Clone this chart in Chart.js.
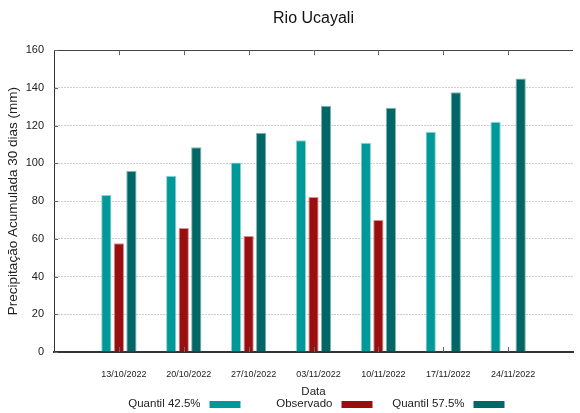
<!DOCTYPE html>
<html>
<head>
<meta charset="utf-8">
<script src="https://cdn.jsdelivr.net/npm/chart.js@4.4.0/dist/chart.umd.min.js"></script>
<style>
  html, body { margin: 0; padding: 0; background: #fff; overflow: hidden; }
  #wrap { width: 590px; height: 413px; }
</style>
</head>
<body>
<div id="wrap"><canvas id="rainChart" width="590" height="413"></canvas></div>
<script>
const dates = ["13/10/2022", "20/10/2022", "27/10/2022", "03/11/2022", "10/11/2022", "17/11/2022", "24/11/2022"];
const q425 = [83.3, 93.4, 100.5, 112.2, 111.0, 116.8, 122.1];
const observed = [57.6, 65.8, 61.5, 82.2, 70.0, null, null];
const q575 = [96.0, 108.5, 116.3, 130.6, 129.5, 137.7, 145.0];
const yTicks = [0, 20, 40, 60, 80, 100, 120, 140, 160];

const sans = "'Liberation Sans', Arial, sans-serif";

// gnuplot-like frame: inward ticks, solid top border, text-then-swatch key
const frameAndKey = {
  id: "frameAndKey",
  afterDraw(chart) {
    const { ctx, chartArea: a, scales } = chart;
    ctx.save();
    ctx.strokeStyle = "#444";
    ctx.lineWidth = 1;
    ctx.beginPath();
    ctx.moveTo(a.left, Math.round(a.top) + 0.5);
    ctx.lineTo(a.right, Math.round(a.top) + 0.5);
    ctx.stroke();
    ctx.strokeStyle = "#666";
    dates.forEach((d, i) => {
      const x = Math.round(scales.x.getPixelForValue(i + 1)) + 0.5;
      ctx.beginPath();
      ctx.moveTo(x, a.top);
      ctx.lineTo(x, a.top + 5);
      ctx.moveTo(x, a.bottom);
      ctx.lineTo(x, a.bottom - 5);
      ctx.stroke();
    });
    yTicks.forEach((v) => {
      const y = Math.round(scales.y.getPixelForValue(v)) + 0.5;
      ctx.beginPath();
      ctx.moveTo(a.left, y);
      ctx.lineTo(a.left + 4, y);
      ctx.stroke();
    });

    // key
    ctx.font = "11.5px " + sans;
    ctx.textAlign = "right";
    ctx.textBaseline = "middle";
    const cx = (a.left + a.right) / 2;
    const ky = 404;
    chart.data.datasets.forEach((ds, i) => {
      const tx = cx + 19 + (i - 1) * 132;
      ctx.fillStyle = "#222";
      ctx.fillText(ds.label, tx, ky);
      ctx.fillStyle = ds.backgroundColor;
      ctx.fillRect(tx + 9, ky - 3, 31, 7);
    });
    ctx.restore();
  },
};

const ctx = document.getElementById("rainChart").getContext("2d");
const rainChart = new Chart(ctx, {
  type: "bar",
  data: {
    labels: dates.map((d, i) => i + 1),
    datasets: [
      {
        label: "Quantil 42.5%",
        data: q425,
        backgroundColor: "#009999",
        borderColor: "rgba(120, 200, 200, 0.8)",
        borderWidth: 1,
      },
      {
        label: "Observado",
        data: observed,
        backgroundColor: "#990e0e",
        borderColor: "rgba(200, 120, 120, 0.8)",
        borderWidth: 1,
      },
      {
        label: "Quantil 57.5%",
        data: q575,
        backgroundColor: "#006666",
        borderColor: "rgba(110, 160, 160, 0.8)",
        borderWidth: 1,
      },
    ],
  },
  options: {
    responsive: false,
    animation: false,
    categoryPercentage: 0.58,
    barPercentage: 0.82,
    layout: {
      padding: { left: 0, right: 4, top: 0, bottom: 14 },
    },
    plugins: {
      legend: { display: false },
      tooltip: { enabled: false },
      title: {
        display: true,
        text: "Rio Ucayali",
        fullSize: false,
        color: "#111",
        font: { family: sans, size: 16, weight: "normal" },
        padding: { top: 9, bottom: 22 },
      },
    },
    scales: {
      x: {
        type: "linear",
        min: 0,
        max: 8,
        offset: false,
        afterFit: (scale) => { scale.height = 47; },
        grid: { display: false, drawTicks: false, tickLength: 0 },
        border: { color: "#333", width: 2 },
        ticks: {
          stepSize: 1,
          autoSkip: false,
          maxRotation: 0,
          padding: 17,
          labelOffset: 5,
          color: "#222",
          font: { family: sans, size: 9 },
          callback: (v) => dates[v - 1] || "",
        },
        title: {
          display: true,
          text: "Data",
          color: "#222",
          font: { family: sans, size: 11.5 },
          padding: { top: 0, bottom: 0 },
        },
      },
      y: {
        min: 0,
        max: 160,
        afterFit: (scale) => { scale.width = 54; },
        grid: {
          color: (c) => (c.tick.value === 0 || c.tick.value === 160 ? "rgba(0,0,0,0)" : "#cdcdcd"),
          drawTicks: false,
        },
        border: { color: "#333", width: 1, dash: [2, 1] },
        ticks: {
          stepSize: 20,
          padding: 10,
          color: "#222",
          font: { family: sans, size: 11 },
        },
        title: {
          display: true,
          text: "Precipitação Acumulada 30 dias (mm)",
          color: "#222",
          font: { family: sans, size: 13.5 },
          padding: { top: 5, bottom: 0 },
        },
      },
    },
  },
  plugins: [frameAndKey],
});
</script>
</body>
</html>
